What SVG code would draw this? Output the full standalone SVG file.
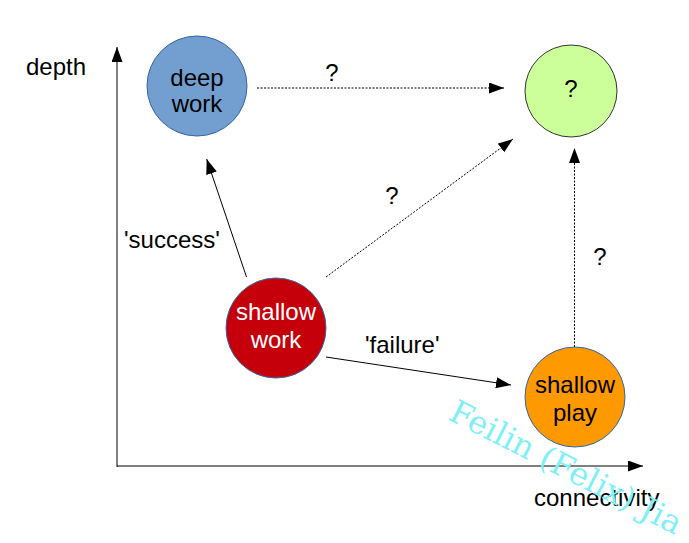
<svg xmlns="http://www.w3.org/2000/svg" width="689" height="543" viewBox="0 0 689 543">
<style>
text{font-family:"Liberation Sans",Arial,sans-serif;font-size:24px;fill:#000}
.c{text-anchor:middle}
.w{fill:#fff}
.ln{stroke:#000;stroke-width:1;fill:none}
.dot{stroke-dasharray:2 1.5}
.wm{font-family:"DejaVu Serif",serif;font-size:32px;fill:#80f0f8}
</style>
<defs>
<marker id="ah" markerUnits="userSpaceOnUse" markerWidth="16" markerHeight="12" refX="15" refY="5.5" orient="auto">
<path d="M0,0 L15,5.5 L0,11 z" fill="#000"/>
</marker>
</defs>
<rect width="689" height="543" fill="#fff"/>
<g id="connectors">
<line class="ln" x1="117" y1="467" x2="117" y2="47" marker-end="url(#ah)"/>
<line class="ln" x1="117" y1="466" x2="643" y2="466" marker-end="url(#ah)"/>
<line class="ln dot" x1="257" y1="88" x2="504" y2="88" marker-end="url(#ah)"/>
<line class="ln dot" x1="326" y1="277" x2="513" y2="139" marker-end="url(#ah)"/>
<line class="ln dot" x1="574.5" y1="347" x2="574.5" y2="148" marker-end="url(#ah)"/>
<line class="ln" x1="246.5" y1="277" x2="206.7" y2="159" marker-end="url(#ah)"/>
<line class="ln" x1="326" y1="357" x2="511" y2="385" marker-end="url(#ah)"/>
</g>
<g id="labels">
<text x="26" y="75">depth</text>
<text x="534" y="506">connectivity</text>
<text x="124" y="248">'success'</text>
<text x="365" y="353">'failure'</text>
<text class="c" x="332" y="81">?</text>
<text class="c" x="392" y="204">?</text>
<text class="c" x="600" y="265">?</text>
</g>
<g id="deep-work">
<circle cx="197" cy="86" r="50" fill="#729fcf" stroke="#3465a4"/>
<text class="c" x="197" y="86">deep</text>
<text class="c" x="197" y="112">work</text>
</g>
<g id="unknown">
<circle cx="571" cy="91" r="46" fill="#ccff99" stroke="#333"/>
<text class="c" x="571" y="97">?</text>
</g>
<g id="shallow-work">
<circle cx="276" cy="328" r="50" fill="#c5000b" stroke="#3465a4"/>
<text class="c w" x="276" y="320">shallow</text>
<text class="c w" x="276" y="348">work</text>
</g>
<g id="shallow-play">
<circle cx="575" cy="397" r="50" fill="#ff9900" stroke="#3465a4"/>
<text class="c" x="575" y="393">shallow</text>
<text class="c" x="575" y="421">play</text>
</g>
<text class="wm" transform="translate(447,419) rotate(27)">Feilin (Felix) Jia</text>
</svg>
